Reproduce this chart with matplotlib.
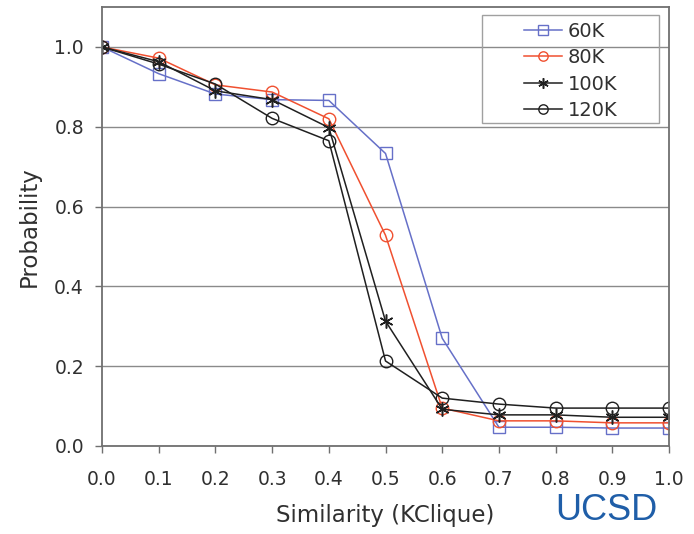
import matplotlib
matplotlib.use("Agg")
import matplotlib.pyplot as plt
from matplotlib.patches import Rectangle

x = [0.0, 0.1, 0.2, 0.3, 0.4, 0.5, 0.6, 0.7, 0.8, 0.9, 1.0]
s60 = [1.0, 0.933, 0.882, 0.868, 0.866, 0.733, 0.27, 0.047, 0.047, 0.045, 0.045]
s80 = [1.0, 0.972, 0.905, 0.887, 0.82, 0.528, 0.095, 0.063, 0.063, 0.058, 0.058]
s100 = [1.0, 0.963, 0.89, 0.868, 0.798, 0.313, 0.092, 0.078, 0.078, 0.072, 0.072]
s120 = [1.0, 0.957, 0.907, 0.821, 0.765, 0.213, 0.12, 0.105, 0.095, 0.095, 0.095]
labels = ["60K", "80K", "100K", "120K"]
xticks = [0.0, 0.1, 0.2, 0.3, 0.4, 0.5, 0.6, 0.7, 0.8, 0.9, 1.0]
yticks = [0.0, 0.2, 0.4, 0.6, 0.8, 1.0]

fig = plt.figure(figsize=(6.94, 5.34), dpi=100)
ax = fig.add_axes([0.147, 0.1648, 0.817, 0.822])

ax.plot(x, s60, color="#6670c8", marker="s", ms=9, mfc="none", mew=1.0, lw=1.1, label=labels[0])
ax.plot(x, s80, color="#f05030", marker="o", ms=9, mfc="none", mew=1.0, lw=1.1, label=labels[1])
ax.plot(x, s100, color="#202020", marker=(6, 2, 0), ms=10, mew=1.1, lw=1.1, label=labels[2])
ax.plot(x, s120, color="#202020", marker="o", ms=9, mfc="none", mew=1.0, lw=1.1, label=labels[3])

ax.set_xlim(0, 1.0)
ax.set_ylim(0, 1.1)
ax.set_xticks(xticks)
ax.set_xticklabels([f"{v:.1f}" for v in xticks])
ax.set_yticks(yticks)
ax.set_yticklabels([f"{v:.1f}" for v in yticks])
ax.yaxis.grid(True, color="#8a8a8a", lw=1.0)
ax.set_axisbelow(True)
for sp in ax.spines.values():
    sp.set_color("#707070")
    sp.set_linewidth(1.3)
ax.tick_params(axis="both", direction="out", length=5, width=1, color="#707070",
               labelsize=13.5, labelcolor="#303030")
ax.tick_params(axis="x", pad=12)
ax.tick_params(axis="y", pad=8)

ax.set_xlabel("Similarity (KClique)", fontsize=16.5, color="#303030", labelpad=11)
ax.set_ylabel("Probability", fontsize=16.5, color="#303030", labelpad=10)

leg = fig.legend(loc="upper left", bbox_to_anchor=(0.7406, 0.9775), fontsize=14,
                 frameon=False, handlelength=1.95, handletextpad=0.3, borderpad=0,
                 labelspacing=0.38, markerscale=0.75)
for t in leg.get_texts():
    t.set_color("#303030")

ax.add_patch(Rectangle((482 / 694, 1 - 123 / 534), 177 / 694, 108 / 534,
                       transform=fig.transFigure, fill=False, edgecolor="#a0a0a0",
                       lw=1.0, zorder=5, clip_on=False))

fig.text(0.80, 0.026, "UCSD", fontsize=26, color="#1f5ea8", family="Liberation Sans")

fig.savefig("out.png", dpi=100)
